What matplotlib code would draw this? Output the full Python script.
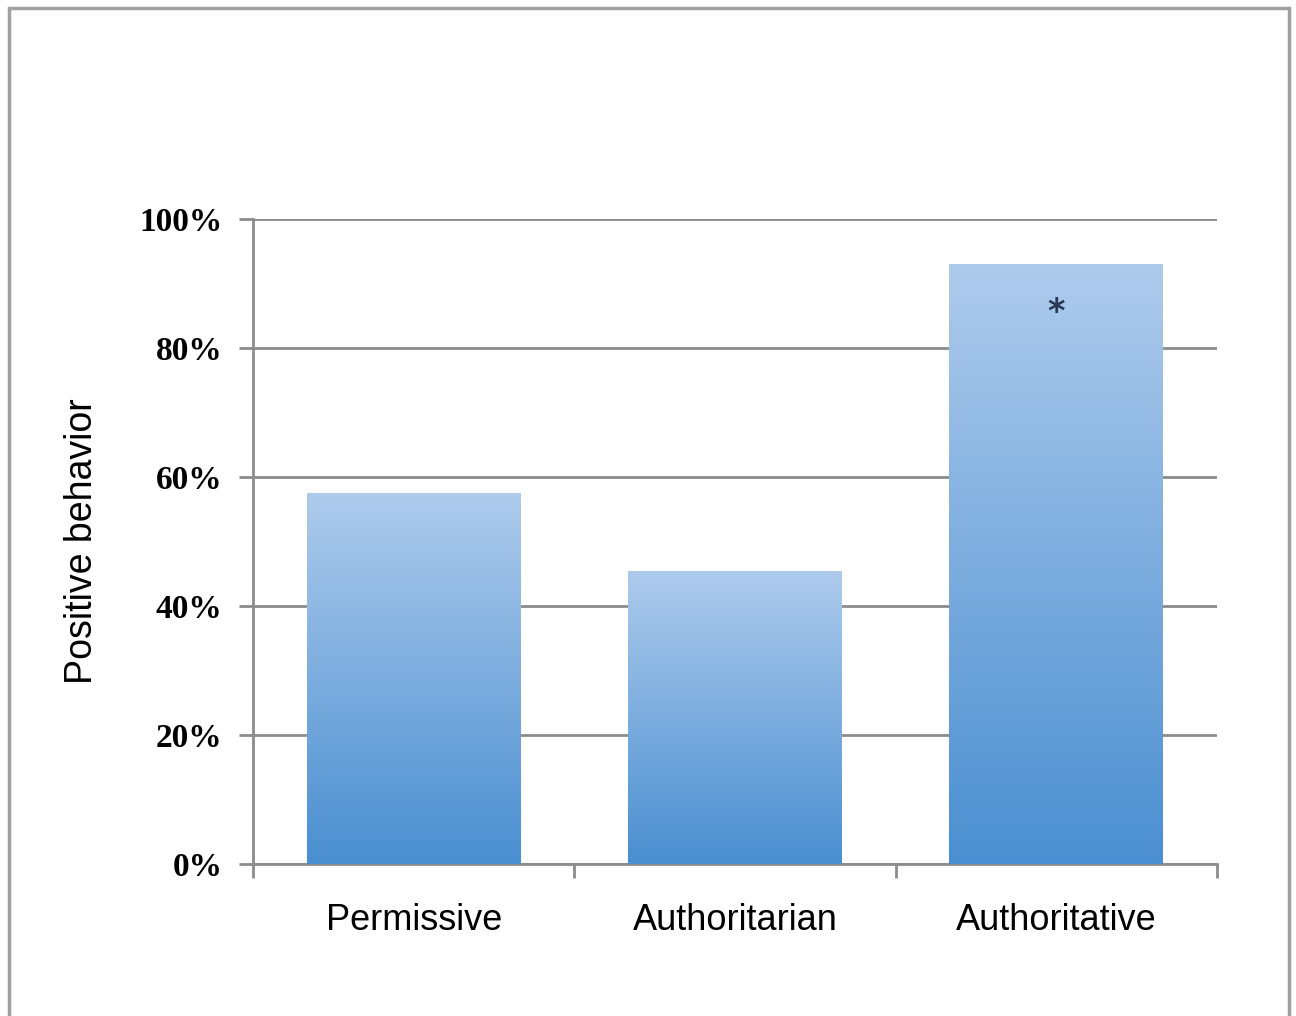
import numpy as np
import matplotlib.pyplot as plt
from matplotlib.colors import LinearSegmentedColormap
from matplotlib.patches import Rectangle

# dati
stili = ['Permissive', 'Authoritarian', 'Authoritative']
comportamento = [57.5, 45.3, 92.9]  # % comportamento positivo
yticks = [0, 20, 40, 60, 80, 100]
ytick_labels = ['0%', '20%', '40%', '60%', '80%', '100%']
asterisco_y = 85.5

fig = plt.figure(figsize=(12.96, 10.16), dpi=100)
ax = fig.add_axes([0.1952, 0.1496, 0.7438, 0.6348])

# cornice grigia intorno a tutto
fig.patches.append(Rectangle((0.0068, -0.05), 0.9876, 1.0424, transform=fig.transFigure,
                             fill=False, edgecolor='#a0a0a0', linewidth=2.5))

cmap = LinearSegmentedColormap.from_list('grad', ['#4a8fd1', '#aecbec'])
gradiente = np.linspace(0, 1, 256).reshape(-1, 1)
larghezza = 0.665

ax.set_xlim(-0.5, 2.5)
ax.set_ylim(0, 100)

for i, v in enumerate(comportamento):
    ax.imshow(gradiente, extent=(i - larghezza / 2, i + larghezza / 2, 0, v),
              origin='lower', cmap=cmap, aspect='auto', zorder=3)

ax.text(2, asterisco_y, '*', ha='center', va='center', fontsize=24, fontweight='bold',
        color='#2a3a55', family='DejaVu Sans', zorder=4)

# griglia e assi
ax.set_yticks(yticks)
ax.set_yticklabels(ytick_labels, family='Liberation Serif', fontweight='bold', fontsize=24)
ax.yaxis.grid(True, color='#8c8c8c', linewidth=2)
ax.set_axisbelow(True)

ax.set_xticks([0, 1, 2])
ax.set_xticklabels(stili, family='Liberation Sans', fontsize=26)
ax.set_xticks([-0.5, 0.5, 1.5, 2.5], minor=True)
ax.tick_params(axis='x', which='major', length=0, pad=28)
ax.tick_params(axis='x', which='minor', length=10, width=2, color='#8c8c8c')
ax.tick_params(axis='y', length=10, width=2, color='#8c8c8c', pad=12)

for s in ['top', 'right']:
    ax.spines[s].set_visible(False)
for s in ['left', 'bottom']:
    ax.spines[s].set_color('#8c8c8c')
    ax.spines[s].set_linewidth(2)

ax.set_ylabel('Positive behavior', family='Liberation Sans', fontsize=27, labelpad=28)

fig.savefig('out.png', dpi=100)
